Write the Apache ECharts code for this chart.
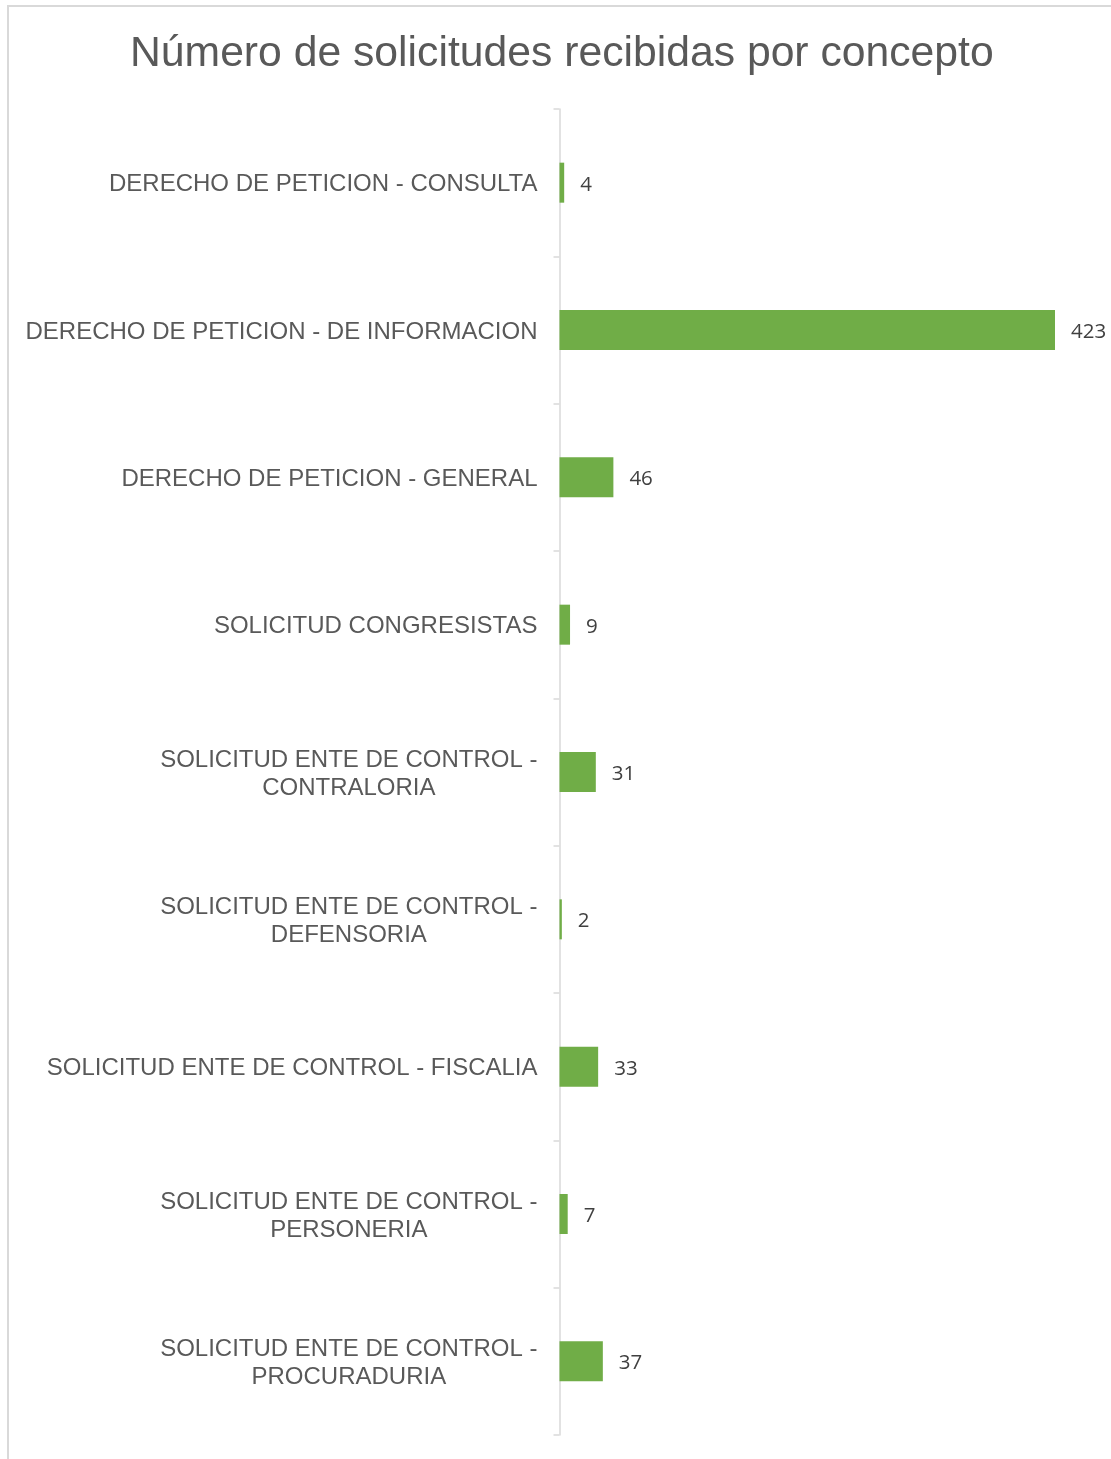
<!DOCTYPE html>
<html>
<head>
<meta charset="utf-8">
<script src="https://cdn.jsdelivr.net/npm/echarts@6/dist/echarts.min.js"></script>
<style>html,body{margin:0;padding:0;background:#fff;}#chart{width:1111px;height:1459px;}</style>
</head>
<body>
<div id="chart"></div>
<script>
const categories = [
  'DERECHO DE PETICION - CONSULTA',
  'DERECHO DE PETICION - DE INFORMACION',
  'DERECHO DE PETICION - GENERAL',
  'SOLICITUD CONGRESISTAS',
  'SOLICITUD ENTE DE CONTROL -\nCONTRALORIA',
  'SOLICITUD ENTE DE CONTROL -\nDEFENSORIA',
  'SOLICITUD ENTE DE CONTROL - FISCALIA',
  'SOLICITUD ENTE DE CONTROL -\nPERSONERIA',
  'SOLICITUD ENTE DE CONTROL -\nPROCURADURIA'
];
const values = [4, 423, 46, 9, 31, 2, 33, 7, 37];
const titleText = 'Número de solicitudes recibidas por concepto';

const chart = echarts.init(document.getElementById('chart'));
chart.setOption({
  animation: false,
  backgroundColor: '#fff',
  title: {
    text: titleText,
    left: 125,
    top: 28,
    textStyle: { fontFamily: 'Liberation Sans', fontSize: 42.7, fontWeight: 'normal', color: '#595959' }
  },
  graphic: [{
    type: 'rect',
    shape: { x: 8, y: 6, width: 1300, height: 1600 },
    style: { fill: 'none', stroke: '#d9d9d9', lineWidth: 2 },
    silent: true, z: -1
  }],
  grid: { left: 559.5, right: 56, top: 109, bottom: 24 },
  xAxis: {
    type: 'value', min: 0, max: 'dataMax', show: false
  },
  yAxis: {
    type: 'category',
    data: categories,
    inverse: true,
    axisLine: { show: true, lineStyle: { color: '#d9d9d9', width: 1.5 } },
    axisTick: { show: true, length: 6, lineStyle: { color: '#d9d9d9', width: 1.5 } },
    axisLabel: {
      margin: 22,
      align: 'right',
      fontFamily: 'Liberation Sans',
      fontSize: 24,
      color: '#595959',
      lineHeight: 28,
      padding: [4, 0, 0, 0],
      formatter: v => v.split('\n').map(l => '{c|' + l + '}').join('\n'),
      rich: { c: { align: 'center', fontFamily: 'Liberation Sans', fontSize: 24, color: '#595959', lineHeight: 28 } }
    }
  },
  series: [{
    type: 'bar',
    data: values,
    barWidth: 40,
    itemStyle: { color: '#70ad47' },
    label: {
      show: true, position: 'right', distance: 15, offset: [1, 2],
      fontFamily: 'Open Sans', fontSize: 20.5, color: '#404040'
    }
  }]
});
</script>
</body>
</html>
